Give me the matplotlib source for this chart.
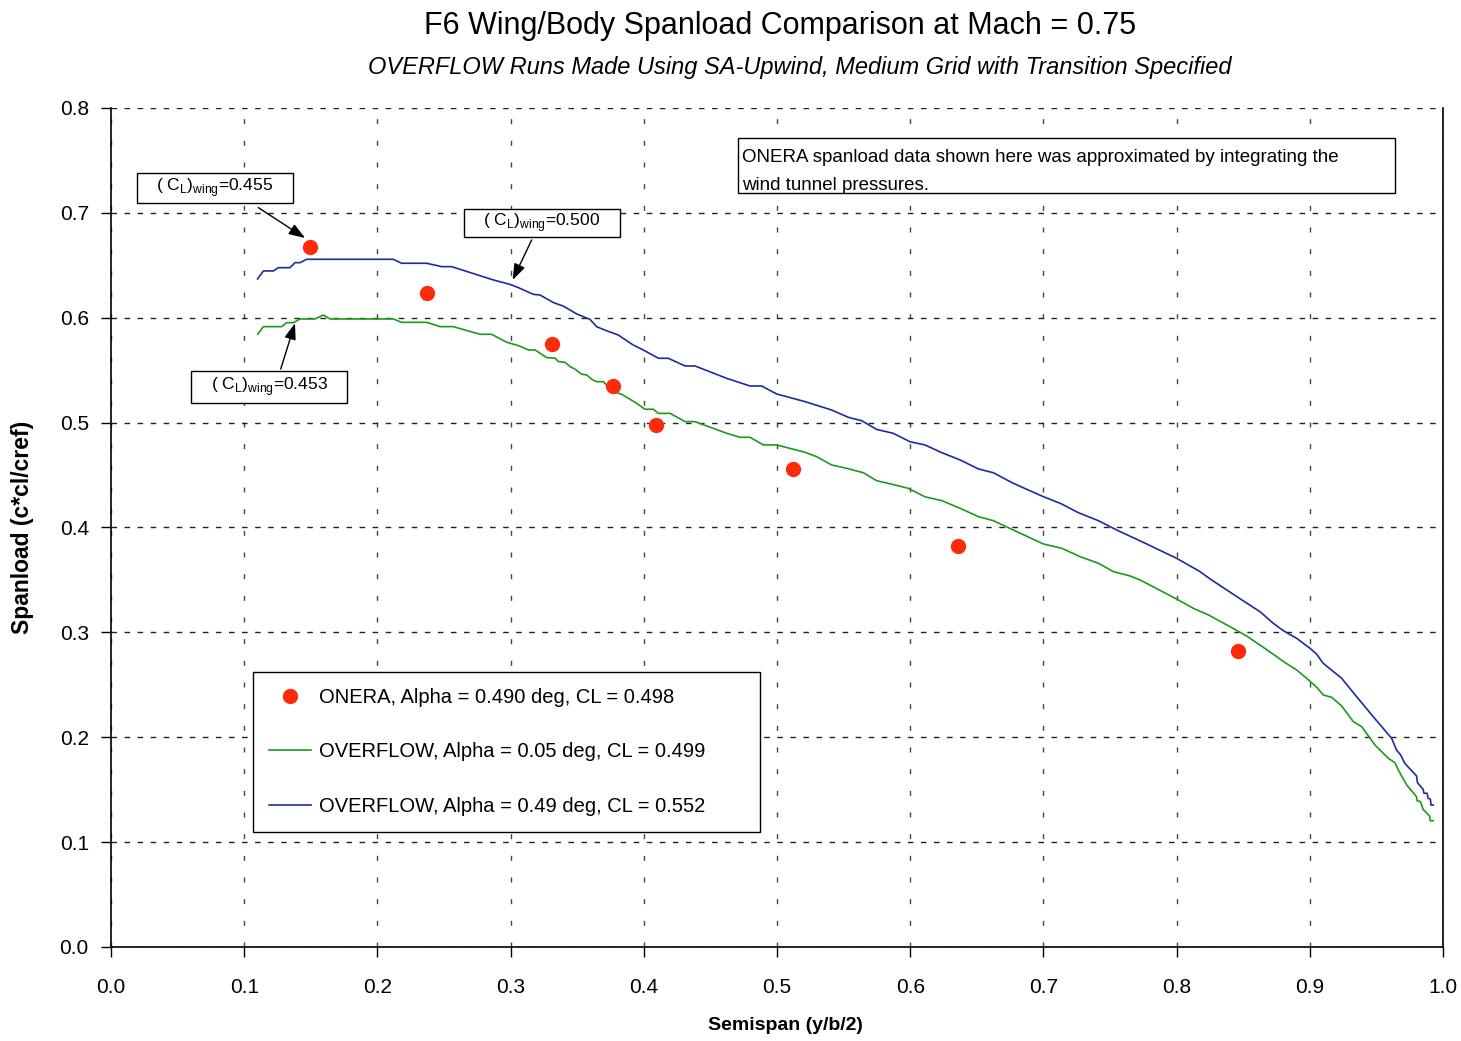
import matplotlib
matplotlib.use("Agg")
import matplotlib.pyplot as plt
from matplotlib.patches import Rectangle

plt.rcParams["font.family"] = ["Liberation Sans", "DejaVu Sans"]
plt.rcParams["mathtext.fontset"] = "custom"
plt.rcParams["mathtext.rm"] = "Liberation Sans"

# ONERA wind tunnel spanload (approximated)
onera_x = [0.149, 0.237, 0.331, 0.377, 0.409, 0.512, 0.636, 0.846]
onera_y = [0.667, 0.624, 0.575, 0.535, 0.498, 0.456, 0.382, 0.282]

# OVERFLOW, alpha = 0.49 deg
ovf49_x = [0.1100, 0.1144, 0.1219, 0.1256, 0.1344, 0.1381, 0.1419, 0.1469, 0.2119, 0.2182,
           0.2370, 0.2482, 0.2557, 0.2870, 0.2995, 0.3058, 0.3170, 0.3220, 0.3320, 0.3396,
           0.3496, 0.3596, 0.3646, 0.3720, 0.3808, 0.3920, 0.3996, 0.4110, 0.4184, 0.4310,
           0.4384, 0.4622, 0.4797, 0.4884, 0.4997, 0.5210, 0.5410, 0.5536, 0.5636, 0.5748,
           0.5874, 0.5998, 0.6110, 0.6236, 0.6374, 0.6512, 0.6624, 0.6774, 0.6999, 0.7137,
           0.7262, 0.7412, 0.7550, 0.7775, 0.8000, 0.8176, 0.8250, 0.8490, 0.8626, 0.8726,
           0.8801, 0.8901, 0.9001, 0.9050, 0.9100, 0.9239, 0.9351, 0.9476, 0.9614, 0.9651,
           0.9682, 0.9713, 0.9801, 0.9808, 0.9850, 0.9857, 0.9880, 0.9888, 0.9905, 0.9910,
           0.9927]
ovf49_y = [0.6370, 0.6446, 0.6446, 0.6477, 0.6477, 0.6525, 0.6525, 0.6557, 0.6557, 0.6519,
           0.6519, 0.6487, 0.6487, 0.6360, 0.6318, 0.6287, 0.6223, 0.6217, 0.6145, 0.6110,
           0.6036, 0.5984, 0.5914, 0.5876, 0.5835, 0.5740, 0.5692, 0.5613, 0.5613, 0.5540,
           0.5540, 0.5422, 0.5349, 0.5349, 0.5273, 0.5200, 0.5120, 0.5050, 0.5018, 0.4935,
           0.4897, 0.4818, 0.4787, 0.4714, 0.4644, 0.4558, 0.4522, 0.4421, 0.4294, 0.4224,
           0.4141, 0.4065, 0.3976, 0.3843, 0.3706, 0.3579, 0.3510, 0.3309, 0.3197, 0.3086,
           0.3016, 0.2943, 0.2848, 0.2794, 0.2705, 0.2562, 0.2387, 0.2196, 0.1990, 0.1878,
           0.1831, 0.1751, 0.1631, 0.1567, 0.1504, 0.1466, 0.1466, 0.1418, 0.1410, 0.1354,
           0.1354]

# OVERFLOW, alpha = 0.05 deg
ovf05_x = [0.1101, 0.1144, 0.1281, 0.1318, 0.1369, 0.1419, 0.1531, 0.1594, 0.1644, 0.2119,
           0.2182, 0.2370, 0.2470, 0.2570, 0.2770, 0.2857, 0.2970, 0.3058, 0.3133, 0.3183,
           0.3270, 0.3333, 0.3358, 0.3408, 0.3446, 0.3483, 0.3533, 0.3571, 0.3608, 0.3646,
           0.3696, 0.3771, 0.3834, 0.3946, 0.4009, 0.4071, 0.4109, 0.4197, 0.4310, 0.4384,
           0.4622, 0.4722, 0.4797, 0.4897, 0.4997, 0.5210, 0.5298, 0.5410, 0.5523, 0.5648,
           0.5748, 0.5886, 0.5986, 0.6110, 0.6236, 0.6374, 0.6512, 0.6624, 0.6774, 0.6999,
           0.7137, 0.7274, 0.7412, 0.7525, 0.7650, 0.7725, 0.8013, 0.8126, 0.8239, 0.8401,
           0.8526, 0.8726, 0.8814, 0.8901, 0.8976, 0.9052, 0.9101, 0.9164, 0.9239, 0.9326,
           0.9389, 0.9489, 0.9589, 0.9639, 0.9664, 0.9727, 0.9801, 0.9805, 0.9830, 0.9850,
           0.9899, 0.9904, 0.9927]
ovf05_y = [0.5842, 0.5915, 0.5915, 0.5953, 0.5953, 0.5988, 0.5988, 0.6026, 0.5988, 0.5988,
           0.5956, 0.5956, 0.5915, 0.5915, 0.5842, 0.5842, 0.5766, 0.5734, 0.5693, 0.5693,
           0.5620, 0.5615, 0.5582, 0.5575, 0.5534, 0.5510, 0.5461, 0.5455, 0.5413, 0.5390,
           0.5390, 0.5295, 0.5270, 0.5184, 0.5127, 0.5127, 0.5088, 0.5088, 0.5009, 0.5009,
           0.4898, 0.4860, 0.4860, 0.4787, 0.4787, 0.4717, 0.4675, 0.4596, 0.4564, 0.4522,
           0.4446, 0.4405, 0.4373, 0.4293, 0.4256, 0.4183, 0.4103, 0.4065, 0.3976, 0.3843,
           0.3802, 0.3722, 0.3659, 0.3579, 0.3538, 0.3500, 0.3309, 0.3229, 0.3166, 0.3054,
           0.2965, 0.2791, 0.2711, 0.2641, 0.2562, 0.2476, 0.2403, 0.2381, 0.2298, 0.2149,
           0.2101, 0.1926, 0.1799, 0.1757, 0.1688, 0.1545, 0.1433, 0.1395, 0.1386, 0.1313,
           0.1249, 0.1204, 0.1204]

ticks_x = [0.0, 0.1, 0.2, 0.3, 0.4, 0.5, 0.6, 0.7, 0.8, 0.9, 1.0]
ticks_y = [0.0, 0.1, 0.2, 0.3, 0.4, 0.5, 0.6, 0.7, 0.8]

# wing CL callouts: label and the data point the arrow points at
cl_labels = ["0.455", "0.500", "0.453"]
cl_heads = [(0.1456, 0.676), (0.3015, 0.636), (0.1381, 0.5947)]

fig = plt.figure(figsize=(14.61, 10.41), dpi=100)
ax = fig.add_axes([0.076, 0.0903, 0.9117, 0.806])

ax.plot(ovf05_x, ovf05_y, color="#1c9a1c", lw=1.2, label="OVERFLOW, Alpha = 0.05 deg, CL = 0.499", zorder=3)
ax.plot(ovf49_x, ovf49_y, color="#1c2c9c", lw=1.2, label="OVERFLOW, Alpha = 0.49 deg, CL = 0.552", zorder=3)
ax.plot(onera_x, onera_y, "o", color="#ff2a0a", ms=10, label="ONERA, Alpha = 0.490 deg, CL = 0.498", zorder=4)

ax.set_xlim(0, 1.0)
ax.set_ylim(0, 0.8)
ax.set_xticks(ticks_x)
ax.set_yticks(ticks_y)
ax.set_xticklabels([f"{t:.1f}" for t in ticks_x])
ax.set_yticklabels([f"{t:.1f}" for t in ticks_y])
ax.tick_params(axis="x", direction="out", length=7, width=1, pad=15, labelsize=15)
ax.tick_params(axis="y", direction="out", length=7, width=1, pad=9, labelsize=15)

ax.xaxis.grid(True, color="#444444", lw=1.0, dashes=(3.6, 12))
ax.yaxis.grid(True, color="#222222", lw=1.0, dashes=(4, 5.4))
ax.set_axisbelow(True)
ax.spines["top"].set_visible(False)
for s in ["left", "bottom", "right"]:
    ax.spines[s].set_color("black")
    ax.spines[s].set_linewidth(1.2)

ax.set_xlabel("Semispan (y/b/2)", fontsize=14, fontweight="bold")
ax.set_ylabel("Spanload (c*cl/cref)", fontsize=16.5, fontweight="bold")
ax.xaxis.set_label_coords(0.506, -0.0834)
ax.yaxis.set_label_coords(-0.058, 0.5)

fig.text(0.5336, 0.975, "F6 Wing/Body Spanload Comparison at Mach = 0.75",
         ha="center", va="center", fontsize=22)
fig.text(0.5476, 0.935, "OVERFLOW Runs Made Using SA-Upwind, Medium Grid with Transition Specified",
         ha="center", va="center", fontsize=17, style="italic")

# callout boxes (axes fraction: x0, y0, w, h) and arrow tails
boxes = [(0.0195, 0.8868, 0.1171, 0.0358),
         (0.2650, 0.8462, 0.1171, 0.0334),
         (0.0601, 0.6484, 0.1171, 0.0381)]
tails = [(0.1106, 0.8812), (0.3158, 0.8427), (0.1274, 0.6889)]
for lab, head, box, tail in zip(cl_labels, cl_heads, boxes, tails):
    x0, y0, w, h = box
    ax.add_patch(Rectangle((x0, y0), w, h, transform=ax.transAxes, facecolor="white",
                           edgecolor="black", lw=1.0, zorder=5))
    ax.text(x0 + w / 2, y0 + h / 2, r"( C$_\mathregular{L}$)$_\mathregular{wing}$=" + lab,
            transform=ax.transAxes, ha="center", va="center", fontsize=12.5, zorder=6)
    ax.annotate("", xy=head, xycoords="data", xytext=tail, textcoords="axes fraction",
                arrowprops=dict(arrowstyle="-|>,head_length=0.7,head_width=0.25", color="black",
                                lw=1.0, mutation_scale=14, shrinkA=0, shrinkB=0), zorder=6)

# note box
ax.add_patch(Rectangle((0.4707, 0.8987), 0.4932, 0.0656, transform=ax.transAxes,
                       facecolor="white", edgecolor="black", lw=1.0, zorder=5))
ax.text(0.4737, 0.9356, "ONERA spanload data shown here was approximated by integrating the",
        transform=ax.transAxes, ha="left", va="baseline", fontsize=13.5, zorder=6)
ax.text(0.4737, 0.9023, "wind tunnel pressures.",
        transform=ax.transAxes, ha="left", va="baseline", fontsize=13.5, zorder=6)

handles, labels = ax.get_legend_handles_labels()
order = [2, 0, 1]
leg = ax.legend([handles[i] for i in order], [labels[i] for i in order],
                loc="upper left", bbox_to_anchor=(0.1066, 0.1347, 0.3806, 0.1931), mode="expand",
                borderaxespad=0, fontsize=14.5, frameon=True, fancybox=False, edgecolor="black",
                framealpha=1, labelspacing=1.75, handlelength=2.1, handletextpad=0.4,
                borderpad=0.8)
leg.get_frame().set_linewidth(1.0)
leg.set_zorder(7)

fig.savefig("out.png", dpi=100)
